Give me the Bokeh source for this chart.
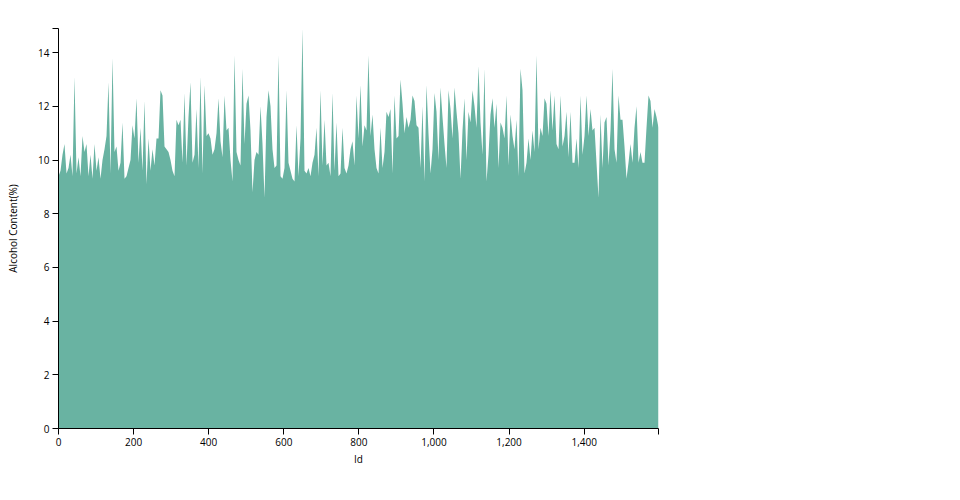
from bokeh.plotting import figure
from bokeh.models import Range1d, FixedTicker, NumeralTickFormatter
from bokeh.embed import file_html
from bokeh.resources import INLINE
import numpy as np

alcohol = [
    # Id ~0-130
    9.4, 9.6, 10.2, 10.6, 9.5, 9.7, 10.2, 9.4, 13.1, 9.5, 10.1, 9.4, 10.9, 10.3, 10.6, 9.4, 10.2, 9.3, 10.6, 9.6, 10.1, 9.3, 10.0, 10.4, 10.9,
    # ~133-261
    12.9, 9.5, 13.8, 10.3, 10.5, 9.6, 9.9, 11.4, 9.3, 9.4, 9.7, 10.0, 11.3, 10.8, 12.3, 9.9, 11.2, 9.6, 12.2, 9.1, 10.8, 9.6, 10.4, 9.8, 10.8,
    # ~267-395
    10.8, 12.6, 12.4, 10.5, 10.4, 10.3, 10.0, 9.6, 9.4, 11.5, 11.3, 11.5, 9.9, 12.5, 9.8, 11.6, 12.9, 9.9, 10.2, 11.9, 9.7, 13.1, 9.5, 12.8, 10.9,
    # ~400-528
    11.0, 10.8, 10.2, 10.4, 11.0, 12.3, 10.7, 10.1, 12.4, 11.1, 11.2, 10.0, 9.2, 13.9, 10.3, 10.0, 9.8, 13.4, 10.6, 12.1, 12.4, 11.1, 8.8, 10.0, 10.3,
    # ~533-661
    10.2, 12.0, 10.6, 8.6, 11.6, 12.6, 12.0, 10.4, 9.7, 9.8, 13.9, 9.4, 9.3, 9.7, 12.6, 9.9, 9.6, 9.3, 9.2, 11.3, 9.4, 10.8, 14.9, 9.6, 9.5,
    # ~666-794
    9.7, 9.4, 9.9, 10.2, 11.2, 9.4, 12.6, 9.8, 11.5, 9.8, 9.9, 9.4, 12.5, 9.6, 11.4, 9.4, 9.5, 11.2, 9.7, 9.5, 9.8, 10.4, 10.7, 9.8, 12.4,
    # ~800-928
    10.8, 12.8, 10.5, 11.3, 11.1, 13.9, 10.9, 11.7, 10.4, 9.7, 9.5, 11.2, 9.7, 10.3, 11.8, 11.6, 11.9, 9.5, 12.4, 10.8, 10.9, 13.0, 12.1, 11.0, 11.6,
    # ~933-1061
    11.2, 11.5, 12.4, 12.2, 11.3, 11.2, 9.7, 12.0, 9.2, 12.8, 11.0, 9.5, 10.4, 12.5, 11.8, 10.0, 12.7, 11.6, 10.6, 9.7, 12.6, 11.9, 10.8, 12.7, 11.8,
    # ~1066-1194
    11.0, 9.3, 11.1, 12.3, 10.0, 11.8, 11.4, 12.6, 12.0, 11.2, 13.5, 11.4, 10.2, 13.4, 9.2, 10.2, 11.7, 12.3, 11.2, 12.1, 9.7, 11.4, 11.2, 10.8, 12.4,
    # ~1200-1328
    9.8, 11.7, 10.9, 10.4, 11.5, 9.4, 13.4, 12.6, 9.5, 9.9, 10.8, 10.0, 11.1, 10.3, 13.9, 10.4, 11.2, 10.9, 12.3, 12.1, 10.9, 12.6, 11.1, 12.4, 10.6,
    # ~1333-1461
    10.4, 12.4, 10.5, 10.9, 11.8, 10.1, 11.8, 9.9, 9.9, 10.8, 9.7, 12.4, 10.2, 10.9, 12.4, 10.9, 11.9, 11.1, 11.2, 9.9, 8.6, 11.7, 9.7, 11.4, 11.6,
    # ~1466-1598
    9.8, 11.1, 13.4, 10.4, 9.9, 12.4, 11.5, 11.5, 10.5, 9.3, 9.9, 10.6, 9.9, 11.2, 12.0, 9.9, 10.3, 9.9, 9.9, 11.2, 12.4, 12.2, 11.2, 11.9, 11.6,
    11.2,
]
id_max = 1598
ids = np.linspace(0, id_max, len(alcohol))

x_ticks = [0, 200, 400, 600, 800, 1000, 1200, 1400]
y_ticks = [0, 2, 4, 6, 8, 10, 12, 14]
y_max = 14.9

FONT = "Open Sans"

p = figure(frame_width=600, frame_height=400,
           x_range=Range1d(0, id_max), y_range=Range1d(0, y_max),
           output_backend="svg", toolbar_location=None,
           min_border_left=58, min_border_top=28,
           min_border_right=284, min_border_bottom=48)

p.varea(x=ids, y1=0, y2=alcohol, fill_color="#69b3a2", fill_alpha=1.0)

p.xgrid.visible = False
p.ygrid.visible = False
p.outline_line_color = None
p.background_fill_color = "white"
p.border_fill_color = "white"

p.xaxis.ticker = FixedTicker(ticks=x_ticks + [id_max])
p.xaxis.major_label_overrides = {id_max: ""}
p.xaxis.formatter = NumeralTickFormatter(format="0,0")
p.yaxis.ticker = FixedTicker(ticks=y_ticks + [y_max])
p.yaxis.major_label_overrides = {y_max: ""}

p.xaxis.axis_label = "Id"
p.yaxis.axis_label = "Alcohol Content(%)"

for ax in (p.xaxis[0], p.yaxis[0]):
    ax.axis_line_color = "black"
    ax.axis_line_width = 1
    ax.major_tick_line_color = "black"
    ax.major_tick_out = 6
    ax.major_tick_in = 0
    ax.minor_tick_line_color = None
    ax.major_label_text_font = FONT
    ax.major_label_text_font_size = "10px"
    ax.major_label_text_color = "black"
    ax.axis_label_text_font = FONT
    ax.axis_label_text_font_size = "10px"
    ax.axis_label_text_font_style = "normal"
    ax.axis_label_text_color = "black"

p.xaxis.major_label_standoff = 3
p.xaxis.axis_label_standoff = 3
p.yaxis.major_label_standoff = 3
p.yaxis.axis_label_standoff = 15

open("out.html", "w").write(file_html(p, INLINE))
